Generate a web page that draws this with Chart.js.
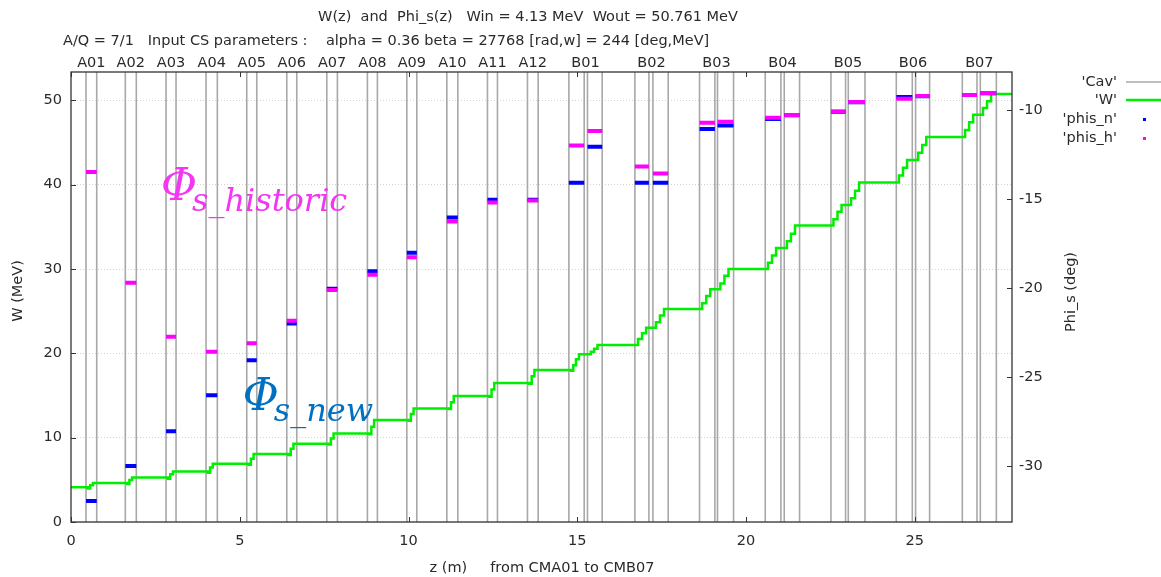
<!DOCTYPE html>
<html>
<head>
<meta charset="utf-8">
<title>W(z) and Phi_s(z)</title>
<script src="https://cdn.jsdelivr.net/npm/chart.js@4.4.1/dist/chart.umd.min.js"></script>
<style>
    html, body { margin: 0; padding: 0; background: #fff; }
    canvas { display: block; }
</style>
</head>
<body>
<canvas id="wphiChart" width="1161" height="577"></canvas>
<script>
// one entry per cavity: module name, entrance / exit z (m)
const cavModule = ['A01', 'A02', 'A03', 'A04', 'A05', 'A06', 'A07', 'A08', 'A09', 'A10', 'A11', 'A12',
    'B01', 'B01', 'B02', 'B02', 'B03', 'B03', 'B04', 'B04', 'B05', 'B05', 'B06', 'B06', 'B07', 'B07'];
const cavStart = [0.445, 1.609, 2.816, 4.001, 5.207, 6.393, 7.579, 8.782, 9.950, 11.135, 12.339, 13.524,
    14.751, 15.302, 16.707, 17.241, 18.622, 19.155, 20.569, 21.132, 22.516, 23.029, 24.452, 25.024, 26.408, 26.941];
const cavEnd = [0.762, 1.935, 3.112, 4.336, 5.504, 6.689, 7.893, 9.078, 10.246, 11.461, 12.635, 13.841,
    15.205, 15.738, 17.122, 17.694, 19.078, 19.630, 21.034, 21.586, 22.949, 23.524, 24.926, 25.439, 26.843, 27.416];

// synchronous phase per cavity (deg)
const phisNew = [-31.97, -30.00, -28.05, -26.02, -24.05, -21.98, -20.03, -19.05, -18.00, -16.03, -15.03, -15.03,
    -14.07, -12.05, -14.07, -14.07, -11.05, -10.85, -10.48, -10.27, -10.07, -9.54, -9.25, -9.20, -9.14, -9.03];
const phisHist = [-13.47, -19.69, -22.73, -23.58, -23.10, -21.83, -20.10, -19.24, -18.26, -16.25, -15.18, -15.07,
    -11.97, -11.16, -13.15, -13.55, -10.69, -10.64, -10.41, -10.26, -10.06, -9.53, -9.34, -9.19, -9.13, -9.02];

// kinetic energy along z (MeV), W changes at each listed z
const wZ = [0, 0.50, 0.57, 0.65, 1.66, 1.73, 1.81, 2.87, 2.94, 3.02, 4.05, 4.12, 4.20, 5.26, 5.33, 5.41,
    6.44, 6.51, 6.59, 7.63, 7.70, 7.78, 8.83, 8.90, 8.98, 10.00, 10.07, 10.15, 11.19, 11.26, 11.34,
    12.39, 12.46, 12.54, 13.58, 13.65, 13.73,
    14.82, 14.88, 14.96, 15.05, 15.40, 15.50, 15.60, 16.80, 16.92, 17.04, 17.33, 17.45, 17.57,
    18.70, 18.82, 18.94, 19.24, 19.36, 19.48, 20.65, 20.77, 20.89, 21.21, 21.33, 21.45,
    22.59, 22.71, 22.83, 23.11, 23.23, 23.35, 24.53, 24.65, 24.77, 25.10, 25.22, 25.34,
    26.49, 26.61, 26.73, 27.02, 27.14, 27.26, 27.88];
const wMeV = [4.13, 3.98, 4.36, 4.63, 4.50, 4.97, 5.27, 5.12, 5.65, 6.00, 5.85, 6.45, 6.90, 6.80, 7.50, 8.05,
    7.95, 8.70, 9.28, 9.20, 9.90, 10.50, 10.40, 11.30, 12.10, 12.00, 12.80, 13.47, 13.40, 14.20, 14.93,
    14.85, 15.70, 16.50, 16.40, 17.30, 18.02,
    17.95, 18.60, 19.30, 19.90, 20.20, 20.55, 21.00, 21.70, 22.40, 23.04, 23.70, 24.50, 25.26,
    25.95, 26.80, 27.60, 28.30, 29.20, 30.00, 30.75, 31.60, 32.50, 33.30, 34.20, 35.16,
    35.90, 36.80, 37.60, 38.40, 39.30, 40.26, 41.10, 42.00, 42.92, 43.80, 44.70, 45.65,
    46.50, 47.40, 48.30, 49.10, 49.90, 50.76, 50.76];

const zMax = 27.88;
const wMax = 53.37;
const phiMin = -33.15;
const phiMax = -7.84;

const titleLine1 = 'W(z)  and  Phi_s(z)   Win = 4.13 MeV  Wout = 50.761 MeV';
const titleLine2 = 'A/Q = 7/1   Input CS parameters :    alpha = 0.36 beta = 27768 [rad,w] = 244 [deg,MeV]';

const FONT = '"DejaVu Sans", sans-serif';
const FSIZE = 14.5;
const TEXT = '#2a2a2a';

// vertical lines at every cavity edge, broken by null points
function cavityLines() {
    const pts = [];
    cavStart.forEach((z, i) => {
        [z, cavEnd[i]].forEach(e => {
            pts.push({ x: e, y: 0 }, { x: e, y: wMax }, { x: e, y: null });
        });
    });
    return pts;
}

// one flat segment per cavity on the phase axis
function phaseSegments(values) {
    const pts = [];
    values.forEach((v, i) => {
        pts.push({ x: cavStart[i], y: v }, { x: cavEnd[i], y: v }, { x: cavEnd[i], y: null });
    });
    return pts;
}

const framePlugin = {
    id: 'frame',
    beforeDraw(chart) {
        const ctx = chart.ctx;
        ctx.save();
        ctx.fillStyle = '#fff';
        ctx.fillRect(0, 0, chart.width, chart.height);
        ctx.restore();
    },
    afterDatasetsDraw(chart) {
        const ctx = chart.ctx;
        const { left, right, top, bottom } = chart.chartArea;
        const sx = chart.scales.x, sy = chart.scales.y, sy2 = chart.scales.y2;
        ctx.save();
        ctx.strokeStyle = '#333';
        ctx.lineWidth = 1.3;
        ctx.strokeRect(left, top, right - left, bottom - top);

        // inward tick marks, mirrored on top
        ctx.lineWidth = 1;
        ctx.beginPath();
        sx.ticks.forEach(t => {
            const px = Math.round(sx.getPixelForValue(t.value)) + 0.5;
            ctx.moveTo(px, bottom); ctx.lineTo(px, bottom - 5);
            ctx.moveTo(px, top); ctx.lineTo(px, top + 5);
        });
        sy.ticks.forEach(t => {
            const py = Math.round(sy.getPixelForValue(t.value)) + 0.5;
            ctx.moveTo(left, py); ctx.lineTo(left + 5, py);
        });
        sy2.ticks.forEach(t => {
            const py = Math.round(sy2.getPixelForValue(t.value)) + 0.5;
            ctx.moveTo(right, py); ctx.lineTo(right - 5, py);
        });
        ctx.stroke();
        ctx.restore();
    },
    afterDraw(chart) {
        const ctx = chart.ctx;
        const sx = chart.scales.x, sy = chart.scales.y;
        ctx.save();
        ctx.fillStyle = TEXT;
        ctx.font = FSIZE + 'px ' + FONT;
        ctx.textBaseline = 'middle';
        ctx.textAlign = 'center';
        ctx.fillText(titleLine1, 528, 17);
        ctx.textAlign = 'left';
        ctx.fillText(titleLine2, 63, 41);

        // module names centred over their cavities
        ctx.textAlign = 'center';
        [...new Set(cavModule)].forEach(m => {
            const idx = cavModule.map((c, i) => c === m ? i : -1).filter(i => i >= 0);
            const z0 = cavStart[idx[0]];
            const z1 = cavEnd[idx[idx.length - 1]];
            ctx.fillText(m, sx.getPixelForValue((z0 + z1) / 2), 63);
        });

        // axis titles
        ctx.fillText('z (m)     from CMA01 to CMB07', 542, 568);
        ctx.save();
        ctx.translate(18, 291);
        ctx.rotate(-Math.PI / 2);
        ctx.fillText('W (MeV)', 0, 0);
        ctx.restore();
        ctx.save();
        ctx.translate(1071, 292);
        ctx.rotate(-Math.PI / 2);
        ctx.fillText('Phi_s (deg)', 0, 0);
        ctx.restore();

        // key
        ctx.textAlign = 'right';
        ctx.fillText("'Cav'", 1117, 82);
        ctx.fillText("'W'", 1117, 100);
        ctx.fillText("'phis_n'", 1117, 119);
        ctx.fillText("'phis_h'", 1117, 138);
        ctx.strokeStyle = '#a8a8a8';
        ctx.lineWidth = 1.5;
        ctx.beginPath(); ctx.moveTo(1126, 82); ctx.lineTo(1161, 82); ctx.stroke();
        ctx.strokeStyle = '#00ee00';
        ctx.lineWidth = 2.5;
        ctx.beginPath(); ctx.moveTo(1126, 100); ctx.lineTo(1161, 100); ctx.stroke();
        ctx.fillStyle = '#0000ff';
        ctx.fillRect(1143, 118, 3, 3);
        ctx.fillStyle = '#ff00ff';
        ctx.fillRect(1143, 137, 3, 3);

        // phase annotations
        drawPhi(ctx, sx.getPixelForValue(2.667), sy.getPixelForValue(38.2), 's_historic', '#f236f2');
        drawPhi(ctx, sx.getPixelForValue(5.09), sy.getPixelForValue(13.27), 's_new', '#0070c0');
        ctx.restore();
    }
};

function drawPhi(ctx, x, y, sub, color) {
    ctx.fillStyle = color;
    ctx.textAlign = 'left';
    ctx.textBaseline = 'alphabetic';
    ctx.font = 'italic 44px "DejaVu Serif", serif';
    ctx.fillText('\u03A6', x, y);
    ctx.font = 'italic 32px "DejaVu Serif", serif';
    ctx.fillText(sub, x + 31, y + 11);
}

new Chart(document.getElementById('wphiChart'), {
    type: 'line',
    data: {
        datasets: [
            {
                label: 'Cav',
                data: cavityLines(),
                yAxisID: 'y',
                borderColor: '#a8a8a8',
                borderWidth: 1.6,
                order: 4
            },
            {
                label: 'W',
                data: wZ.map((z, i) => ({ x: z, y: wMeV[i] })),
                yAxisID: 'y',
                borderColor: '#00ee00',
                borderWidth: 2.5,
                stepped: true,
                order: 3
            },
            {
                label: 'phis_n',
                data: phaseSegments(phisNew),
                yAxisID: 'y2',
                borderColor: '#0000ff',
                borderWidth: 4,
                borderCapStyle: 'butt',
                order: 2
            },
            {
                label: 'phis_h',
                data: phaseSegments(phisHist),
                yAxisID: 'y2',
                borderColor: '#ff00ff',
                borderWidth: 4,
                borderCapStyle: 'butt',
                order: 1
            }
        ]
    },
    options: {
        responsive: false,
        animation: false,
        devicePixelRatio: 1,
        layout: { padding: { top: 72, left: 0, right: 0, bottom: 0 } },
        elements: { point: { radius: 0 }, line: { tension: 0 } },
        plugins: { legend: { display: false }, tooltip: { enabled: false } },
        scales: {
            x: {
                type: 'linear',
                min: 0,
                max: zMax,
                afterFit: s => { s.height = 55; },
                ticks: { stepSize: 5, includeBounds: false, color: TEXT, font: { family: FONT, size: FSIZE }, padding: 11, maxRotation: 0 },
                grid: { display: false, drawTicks: false },
                border: { display: false }
            },
            y: {
                min: 0,
                max: wMax,
                afterFit: s => { s.width = 71; },
                ticks: { stepSize: 10, includeBounds: false, color: TEXT, font: { family: FONT, size: FSIZE }, padding: 9 },
                grid: { color: '#d2d2d2', lineWidth: 1, drawTicks: false },
                border: { display: false, dash: [1, 2] }
            },
            y2: {
                position: 'right',
                min: phiMin,
                max: phiMax,
                afterFit: s => { s.width = 149; },
                ticks: { stepSize: 5, includeBounds: false, color: TEXT, font: { family: FONT, size: FSIZE }, padding: 7 },
                grid: { drawOnChartArea: false, drawTicks: false },
                border: { display: false }
            }
        }
    },
    plugins: [framePlugin]
});
</script>
</body>
</html>
